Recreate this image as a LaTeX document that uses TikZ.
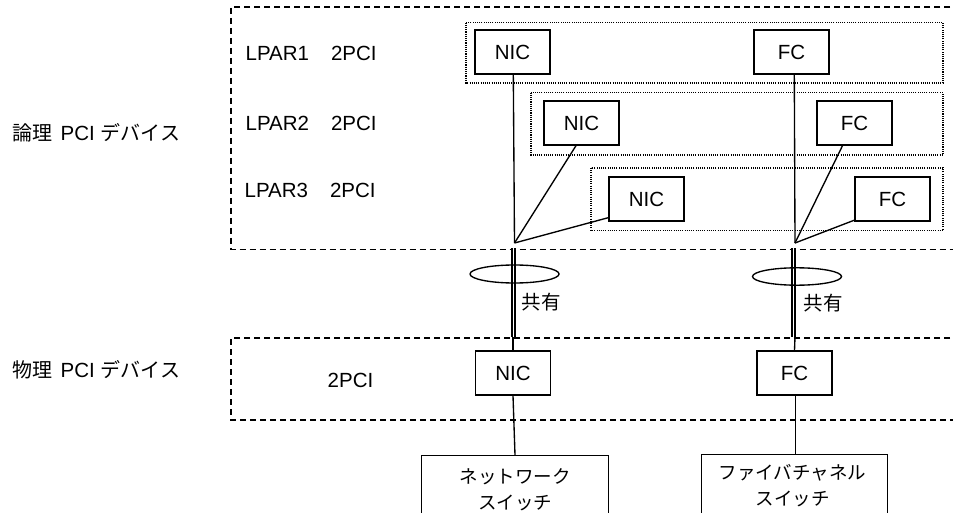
\documentclass[tikz,border=0pt]{standalone}
\usepackage{fontspec}
\setmainfont{Liberation Sans}
\newfontfamily\jp{Noto Sans CJK JP}
\begin{document}
\begin{tikzpicture}[x=1pt,y=-1pt, line width=1.35pt,
 dev/.style={draw, minimum width=75pt, minimum height=44pt, inner sep=0pt, font=\fontsize{20.5}{24}\selectfont},
 swbox/.style={draw, minimum width=186.5pt, minimum height=80pt, inner sep=0pt, anchor=north},
 grp/.style={line width=1.1pt, dash pattern=on 1.1pt off 1.1pt},
 area/.style={dash pattern=on 6pt off 4pt},
 lbl/.style={anchor=west, inner sep=0pt, font=\fontsize{20.5}{24}\selectfont},
 jlbl/.style={inner sep=0pt, align=center, font=\jp\fontsize{18.5}{26}\selectfont},
 share/.style={anchor=west, inner sep=0pt, font=\jp\fontsize{19.5}{22}\selectfont},
 dbl/.style={double, double distance=1.8pt, line width=1.2pt},
 ]
\useasboundingbox (0,0) rectangle (953,513);
\clip (0,0) rectangle (953,513);

% dashed areas (open on the right)
\draw[area] (960,7) -- (231,7) -- (231,249.5) -- (960,249.5);
\draw[area] (960,338) -- (231,338) -- (231,420) -- (960,420);

% dotted LPAR groups
\draw[grp] (466,22.7) rectangle (943,83);
\draw[grp] (531,92.7) rectangle (943,155);
\draw[grp] (591,168) rectangle (943,230.7);

% left labels
\node[lbl] (lp1) at (245,53) {LPAR1\hspace{22pt}2PCI};
\node[lbl] (lp2) at (245,123) {LPAR2\hspace{22pt}2PCI};
\node[lbl] (lp3) at (244,190) {LPAR3\hspace{22pt}2PCI};
\node[lbl] (logi) at (12,133) {{\jp\fontsize{20}{24}\selectfont 論理}\hspace{8pt}PCI\hspace{6pt}{\jp\fontsize{20}{24}\selectfont デバイス}};
\node[lbl] (phys) at (12,370) {{\jp\fontsize{20}{24}\selectfont 物理}\hspace{8pt}PCI\hspace{6pt}{\jp\fontsize{20}{24}\selectfont デバイス}};
\node[lbl, anchor=center] (p2pci) at (350.5,380) {2PCI};

% logical devices
\node[dev] (nic1) at (512.5,52) {NIC};
\node[dev] (fc1) at (791.5,52) {FC};
\node[dev] (nic2) at (581.5,123) {NIC};
\node[dev] (fc2) at (854.5,123) {FC\hspace{14pt}};
\node[dev] (nic3) at (646.5,199) {NIC};
\node[dev] (fc3) at (892.5,199) {FC};

% junctions
\coordinate (j1) at (514.5,243);
\coordinate (j2) at (795,243);
\draw ([xshift=0.8pt]nic1.south) -- (j1);
\draw ([xshift=-5.5pt]nic2.south) -- (j1);
\draw ([yshift=4pt]nic3.south west) -- (j1);
\draw ([xshift=2.8pt]fc1.south) -- (j2);
\draw ([xshift=-12pt]fc2.south) -- (j2);
\draw ([yshift=1.5pt]fc3.south west) -- (j2);

% physical devices
\node[dev] (pnic) at (513,373) {NIC};
\node[dev] (pfc) at (794.5,373) {FC};

% shared double links
\coordinate (d1t) at (513.5,248);
\coordinate (d1b) at (513.5,337);
\coordinate (d2t) at (793.5,248);
\coordinate (d2b) at (793.5,337);
\draw[dbl] (d1t) -- (d1b);
\draw[dbl] (d2t) -- (d2b);
\draw (pnic.north) -- (513,337);
\draw (pfc.north) -- (795,337);
\draw (514.5,274) ellipse [x radius=44.5pt, y radius=9pt];
\draw (797,276.5) ellipse [x radius=44.5pt, y radius=8.7pt];
\node[share] (sh1) at (521,302) {共有};
\node[share] (sh2) at (803,303) {共有};

% switches
\node[swbox] (sw1) at (515,455) {};
\node[swbox] (sw2) at (794.5,454) {};
\node[jlbl] (sw1t) at (515,490) {ネットワーク\\スイッチ};
\node[jlbl] (sw2t) at (792.5,486) {ファイバチャネル\\スイッチ};
\draw (pnic.south) -- (sw1.north);
\draw ([xshift=1pt]pfc.south) -- ([xshift=1pt]sw2.north);
\end{tikzpicture}
\end{document}
